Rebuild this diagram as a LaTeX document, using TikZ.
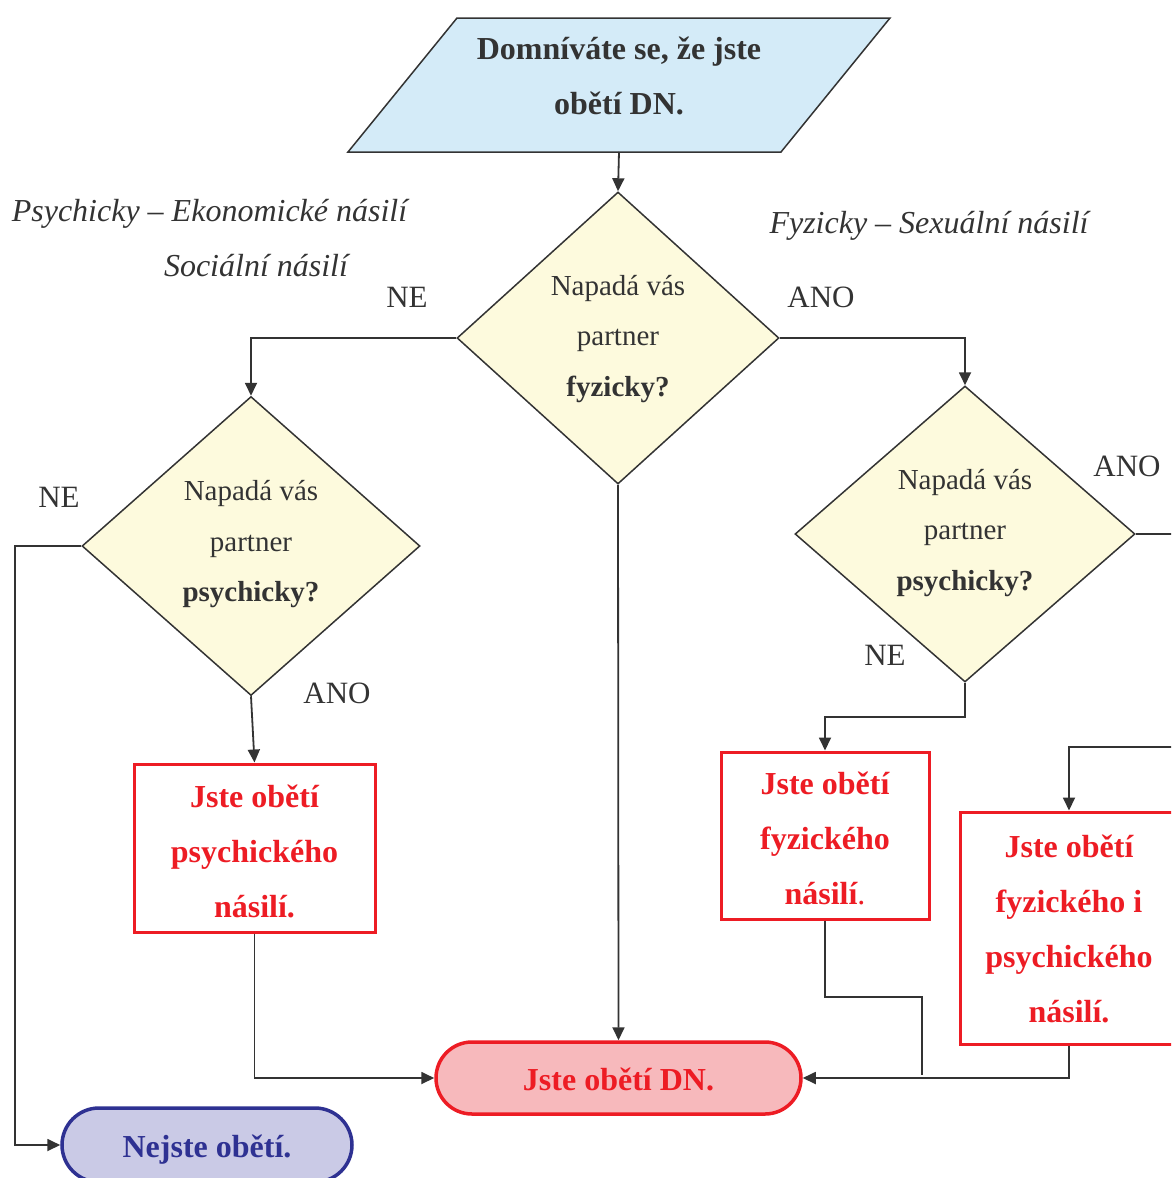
\documentclass[tikz,border=0pt]{standalone}
\usepackage{fontspec}
\setmainfont{Liberation Serif}
\usetikzlibrary{shapes.geometric,arrows.meta}
\definecolor{ink}{HTML}{333333}
\definecolor{redc}{HTML}{ED1C24}
\definecolor{bluec}{HTML}{2E3192}
\definecolor{paraf}{HTML}{D4EBF8}
\definecolor{diaf}{HTML}{FDFADD}
\definecolor{redf}{HTML}{F7B9BC}
\definecolor{bluef}{HTML}{CACAE6}
\begin{document}
\begin{tikzpicture}[x=1pt,y=-1pt,
  conn/.style={draw=ink,line width=1.8pt},
  arr/.style={conn,-{Triangle[length=13pt,width=12pt]}},
  dia/.style={diamond,draw=ink,line width=1.5pt,fill=diaf,inner sep=0pt},
  diatext/.style={align=center,text=ink,font=\fontsize{29}{50.5}\selectfont},
  lbl/.style={text=ink,font=\fontsize{31}{36}\selectfont,inner sep=0pt},
  cat/.style={text=ink,font=\fontsize{32}{36}\selectfont\itshape,inner sep=0pt},
  redbox/.style={draw=redc,line width=3pt,fill=white,align=center,text=redc,
    font=\fontsize{32}{55}\selectfont\bfseries,inner sep=0pt},
  stadium/.style={line width=3.5pt,inner sep=0pt,font=\fontsize{32}{36}\selectfont\bfseries}
]
\useasboundingbox (0,0) rectangle (1171,1178);
\clip (0,0) rectangle (1171,1178);

% start parallelogram
\draw[ink,line width=1.5pt,fill=paraf] (457,18) -- (890,18) -- (781,152) -- (348,152) -- cycle;
\node[align=center,text=ink,font=\fontsize{32}{55}\selectfont\bfseries] (start) at (619,76) {Domníváte se, že jste\\obětí DN.};
\coordinate (pb) at (619,152);

% diamonds
\node[dia,minimum width=322pt,minimum height=292pt] (d1) at (618,338) {};
\node[diatext] (d1t) at (618,339) {Napadá vás\\partner\\\textbf{fyzicky?}};
\node[dia,minimum width=338pt,minimum height=299pt] (d2) at (251,546) {};
\node[diatext] (d2t) at (251,544.5) {Napadá vás\\partner\\\textbf{psychicky?}};
\node[dia,minimum width=340pt,minimum height=296pt] (d3) at (965,534) {};
\node[diatext] (d3t) at (965,533) {Napadá vás\\partner\\\textbf{psychicky?}};

% result boxes
\node[redbox,minimum width=241pt,minimum height=168pt] (b1) at (254.5,848) {};
\node[align=center,text=redc,font=\fontsize{32}{55}\selectfont\bfseries] (b1t) at (254.5,851) {Jste obětí\\psychického\\násilí.};
\node[redbox,minimum width=208pt,minimum height=167pt] (b2) at (825,835.5) {};
\node[align=center,text=redc,font=\fontsize{32}{55}\selectfont\bfseries] (b2t) at (825,838) {Jste obětí\\fyzického\\násilí\textmd{.}};
\node[redbox,minimum width=218pt,minimum height=232pt] (b3) at (1069,928) {};
\node[align=center,text=redc,font=\fontsize{32}{55}\selectfont\bfseries] (b3t) at (1069,929) {Jste obětí\\fyzického i\\psychického\\násilí.};

% terminals
\node[stadium,draw=redc,fill=redf,minimum width=365pt,minimum height=72pt,rounded corners=36pt] (jd) at (618.5,1078) {};
\node[text=redc,font=\fontsize{32}{36}\selectfont\bfseries] (jdt) at (618.5,1079.5) {Jste obětí DN.};
\node[stadium,draw=bluec,fill=bluef,minimum width=290pt,minimum height=74pt,rounded corners=37pt] (nj) at (207,1145) {};
\node[text=bluec,font=\fontsize{32}{36}\selectfont\bfseries] (njt) at (207,1150) {Nejste obětí.};

% category labels
\node[cat] (c1) at (209.5,214) {Psychicky – Ekonomické násilí};
\node[cat] (c2) at (256,266) {Sociální násilí};
\node[cat] (c3) at (929,226) {Fyzicky – Sexuální násilí};

% branch labels
\node[lbl] (l1) at (407,297) {NE};
\node[lbl] (l2) at (821,297) {ANO};
\node[lbl] (l3) at (59,497) {NE};
\node[lbl] (l4) at (337,693) {ANO};
\node[lbl] (l5) at (1127,466) {ANO};
\node[lbl] (l6) at (885,655) {NE};

% helper coordinates
\coordinate (r1) at (1190,534);
\coordinate (r2) at (1190,747);
\coordinate (lft) at (15,546);
\coordinate (b2a) at (825,997);
\coordinate (b2b) at (922,997);
\coordinate (b2end) at (922,1075);
\coordinate (d3a) at (965,717);

% connectors
\draw[arr] (pb) -- (d1.north);
\draw[arr] (d1.west) -| (d2.north);
\draw[arr] (d1.east) -| (d3.north);
\draw[arr] (d1.south) -- (jd.north);
\draw[arr] (d2.west) -- (lft) |- (nj.west);
\draw[arr] (d2.south) -- (b1.north);
\draw[arr] (d3.south) -- (d3a) -| (b2.north);
\draw[arr] (d3.east) -- (r1) -- (r2) -| (b3.north);
\draw[arr] (b1.south) |- (jd.west);
\draw[arr] (b3.south) |- (jd.east);
\draw[conn] (b2.south) -- (b2a) -- (b2b) -- (b2end);
\end{tikzpicture}
\end{document}
